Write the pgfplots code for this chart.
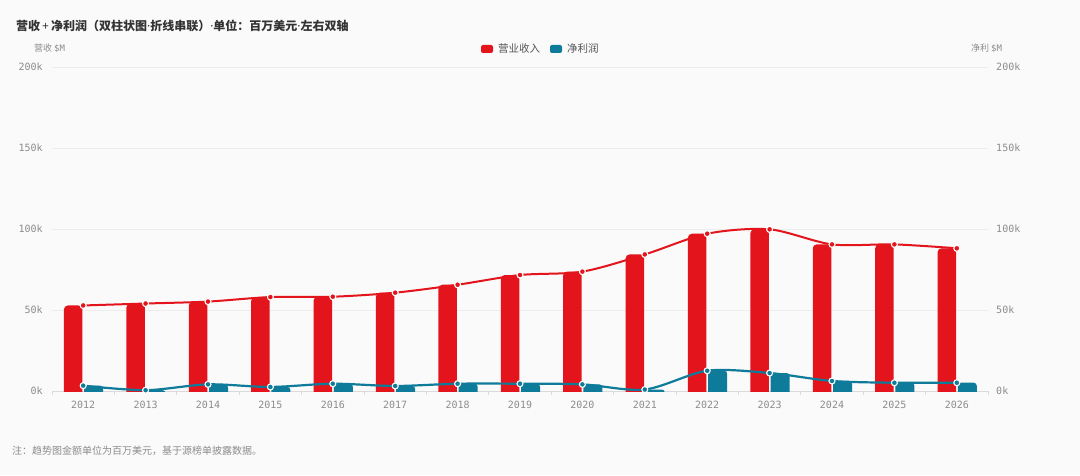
\documentclass[border=0pt]{standalone}
\usepackage{fontspec}
\usepackage{pgfplots}
\pgfplotsset{compat=1.18}
\usepackage{pgfplotstable}
\setmainfont{Noto Sans CJK SC}
\newfontfamily\cjk{Noto Sans CJK SC}
\newfontfamily\lat{Noto Sans}
\newfontfamily\mono{DejaVu Sans Mono}
\definecolor{bg}{HTML}{FAFAFA}
\definecolor{rev}{HTML}{E3141C}
\definecolor{np}{HTML}{0F7B9A}
\definecolor{tickgray}{HTML}{8C8C8C}
\definecolor{titlec}{HTML}{333333}
\definecolor{legc}{HTML}{555555}
\definecolor{gridc}{HTML}{EDEDED}
\definecolor{basec}{HTML}{DADADA}
\newcommand\tk{\fontsize{10}{12}\selectfont\mono}

\pgfplotstableread{
idx rev np
0 52800 3300
1 54000 500
2 55200 4100
3 58000 2500
4 58200 4500
5 60700 3100
6 65600 4500
7 71600 4500
8 73700 4100
9 84300 900
10 97100 12500
11 99800 11100
12 90500 6200
13 90500 5100
14 88100 5100
}\data

\begin{document}
\begin{tikzpicture}[x=1pt,y=1pt]
\path[use as bounding box, fill=bg] (0,0) rectangle (1080,475);
% right axis (labels only)
\begin{axis}[
  at={(52pt,84pt)}, anchor=south west, scale only axis,
  width=936pt, height=324pt,
  xmin=-0.5, xmax=14.5, ymin=0, ymax=200000,
  axis line style={draw=none},
  xtick=\empty,
  ytick={0,50000,100000,150000,200000},
  yticklabels={0k,50k,100k,150k,200k},
  ytick pos=right, yticklabel pos=right,
  ytick style={draw=none}, major tick length=0pt,
  yticklabel style={font=\tk, text=tickgray, anchor=west, xshift=4.7pt},
  scaled y ticks=false,
]
\end{axis}
\begin{axis}[
  at={(52pt,84pt)}, anchor=south west, scale only axis,
  width=936pt, height=324pt,
  xmin=-0.5, xmax=14.5, ymin=0, ymax=200000,
  axis line style={draw=none},
  xtick={0,...,14},
  xticklabels={2012,2013,2014,2015,2016,2017,2018,2019,2020,2021,2022,2023,2024,2025,2026},
  minor xtick={-0.5,0.5,...,14.5},
  xtick pos=bottom, ytick pos=left,
  tick align=outside,
  major tick length=0pt, minor tick length=4pt,
  major tick style={draw=none},
  minor tick style={draw=basec, line width=0.7pt},
  ytick={0,50000,100000,150000,200000},
  yticklabels={0k,50k,100k,150k,200k},
  ymajorgrids, grid style={draw=gridc, line width=0.7pt},
  extra y ticks={0}, extra y tick labels={},
  extra y tick style={grid style={draw=basec, line width=0.8pt}},
  tick label style={font=\tk, text=tickgray},
  xticklabel style={anchor=north, yshift=-6.5pt},
  yticklabel style={anchor=east, xshift=-5.7pt},
  scaled y ticks=false,
]
% bars: raised by 3086 ($M) = 5pt and shifted 5pt down, so the square bottom is clipped
\addplot[ybar, bar width=18.5pt, bar shift=-10pt, fill=rev, draw=none, rounded corners=4pt, yshift=-5pt] table[x=idx,y expr=\thisrow{rev}+3086]{\data};
\addplot[ybar, bar width=19pt, bar shift=10.5pt, fill=np, draw=none, rounded corners=3pt, yshift=-5pt] table[x=idx,y expr=\thisrow{np}+3086]{\data};
\addplot[rev, line width=2pt, smooth, tension=0.5, mark=*, mark size=3pt,
  mark options={fill=rev, draw=white, line width=1.1pt}] table[x=idx,y=rev]{\data};
\addplot[np, line width=2.2pt, smooth, tension=0.5, mark=*, mark size=3pt,
  mark options={fill=np, draw=white, line width=1.1pt}] table[x=idx,y=np]{\data};
\end{axis}
% title
\node[anchor=west, inner sep=0pt, text=titlec, font=\fontsize{12}{14}\selectfont\cjk\bfseries] at (16,449) {营收{\lat\bfseries\,+\,}净利润（双柱状图{\lat\bfseries·}折线串联）{\lat\bfseries·}单位：百万美元{\lat\bfseries·}左右双轴};
% axis labels
\node[anchor=west, inner sep=0pt, text=tickgray, font=\fontsize{9}{11}\selectfont\cjk] at (34,427) {营收 {\mono\$M}};
\node[anchor=west, inner sep=0pt, text=tickgray, font=\fontsize{9}{11}\selectfont\cjk] at (971,427) {净利 {\mono\$M}};
% legend
\fill[rev, rounded corners=2pt] (481,422) rectangle (493,430);
\node[anchor=west, inner sep=0pt, text=legc, font=\fontsize{10.5}{12}\selectfont\cjk] at (498,426) {营业收入};
\fill[np, rounded corners=2pt] (550,422) rectangle (562,430);
\node[anchor=west, inner sep=0pt, text=legc, font=\fontsize{10.5}{12}\selectfont\cjk] at (567,426) {净利润};
% footnote
\node[anchor=west, inner sep=0pt, text=tickgray, font=\fontsize{10}{12}\selectfont\cjk] at (12,24) {注：趋势图金额单位为百万美元，基于源榜单披露数据。};
\end{tikzpicture}
\end{document}
